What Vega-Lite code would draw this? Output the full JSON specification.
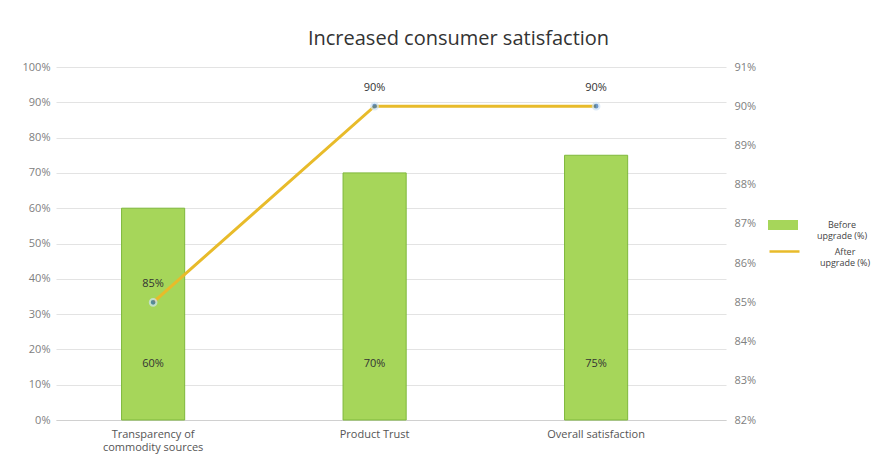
{
  "$schema": "https://vega.github.io/schema/vega-lite/v6.json",
  "width": 885,
  "height": 456,
  "autosize": {"type": "fit", "contains": "padding"},
  "padding": {"left": 22, "top": 29, "right": 14, "bottom": 4},
  "background": "white",
  "title": {
    "text": "Increased consumer satisfaction",
    "fontSize": 20,
    "font": "Open Sans",
    "fontWeight": "normal",
    "color": "#333333",
    "anchor": "middle",
    "frame": "bounds",
    "dx": 12,
    "offset": 12
  },
  "config": {
    "view": {"stroke": null},
    "font": "Open Sans",
    "axis": {"labelFont": "Open Sans", "labelColor": "#808080", "labelFontSize": 11, "ticks": false, "title": null},
    "legend": {"layout": {"right": {"anchor": "middle", "direction": "vertical", "margin": 4}}}
  },
  "data": {
    "values": [
      {"category": "Transparency of commodity sources", "before": 0.60, "after": 0.85},
      {"category": "Product Trust", "before": 0.70, "after": 0.90},
      {"category": "Overall satisfaction", "before": 0.75, "after": 0.90}
    ]
  },
  "encoding": {
    "x": {
      "field": "category",
      "type": "nominal",
      "sort": null,
      "scale": {"paddingInner": 0.715, "paddingOuter": 0.37, "align": 0.4},
      "axis": {
        "labelAngle": 0,
        "labelColor": "#555555",
        "labelFontSize": 11,
        "domainColor": "#d0d0d0",
        "labelPadding": 8,
        "labelExpr": "datum.label == 'Transparency of commodity sources' ? ['Transparency of', 'commodity sources'] : datum.label"
      }
    }
  },
  "layer": [
    {
      "layer": [
        {
          "mark": {"type": "bar", "stroke": "#7fb83c", "strokeWidth": 1},
          "encoding": {
            "y": {
              "field": "before",
              "type": "quantitative",
              "scale": {"domain": [0, 1]},
              "axis": {"format": ".0%", "values": [0,0.1,0.2,0.3,0.4,0.5,0.6,0.7,0.8,0.9,1], "gridColor": "#e3e3e3", "domain": false, "labelPadding": 6, "labelOverlap": false}
            },
            "fill": {
              "datum": "Before upgrade (%)",
              "scale": {"range": ["#a6d65a"]},
              "legend": {
                "title": null,
                "symbolType": "M-3,-1H3V1H-3Z",
                "symbolSize": 100,
                "symbolStrokeWidth": 0,
                "labelExpr": "['Before', 'upgrade (%)']",
                "labelFontSize": 9,
                "labelColor": "#444444",
                "labelAlign": "center",
                "labelOffset": 54,
                "offset": 22,
                "orient": "right"
              }
            }
          }
        },
        {
          "mark": {"type": "text", "fontSize": 11, "color": "#333333"},
          "encoding": {
            "y": {
              "datum": 0.16,
              "type": "quantitative",
              "scale": {"domain": [0, 1]},
              "axis": {"format": ".0%", "values": [0,0.1,0.2,0.3,0.4,0.5,0.6,0.7,0.8,0.9,1], "gridColor": "#e3e3e3", "domain": false, "labelPadding": 6, "labelOverlap": false}
            },
            "text": {"field": "before", "type": "quantitative", "format": ".0%"}
          }
        }
      ]
    },
    {
      "layer": [
        {
          "mark": {"type": "line", "strokeWidth": 3},
          "encoding": {
            "y": {
              "field": "after",
              "type": "quantitative",
              "scale": {"domain": [0.82, 0.91]},
              "axis": {"orient": "right", "format": ".0%", "values": [0.82,0.83,0.84,0.85,0.86,0.87,0.88,0.89,0.9,0.91], "grid": false, "domain": false, "labelPadding": 8, "labelOverlap": false}
            },
            "stroke": {
              "datum": "After upgrade (%)",
              "scale": {"range": ["#e8bb2a"]},
              "legend": {
                "title": null,
                "symbolType": "M-3,0H3",
                "symbolSize": 100,
                "symbolStrokeWidth": 2.5,
                "labelExpr": "['After', 'upgrade (%)']",
                "labelFontSize": 9,
                "labelColor": "#444444",
                "labelAlign": "center",
                "labelOffset": 54,
                "offset": 22,
                "orient": "right"
              }
            }
          }
        },
        {
          "mark": {"type": "point", "filled": true, "size": 45, "color": "#2f6db5", "stroke": "#cfe3f5", "strokeWidth": 2},
          "encoding": {
            "y": {
              "field": "after",
              "type": "quantitative",
              "scale": {"domain": [0.82, 0.91]},
              "axis": {"orient": "right", "format": ".0%", "values": [0.82,0.83,0.84,0.85,0.86,0.87,0.88,0.89,0.9,0.91], "grid": false, "domain": false, "labelPadding": 8, "labelOverlap": false}
            }
          }
        },
        {
          "mark": {"type": "text", "fontSize": 11, "color": "#333333", "dy": -18},
          "encoding": {
            "y": {
              "field": "after",
              "type": "quantitative",
              "scale": {"domain": [0.82, 0.91]},
              "axis": {"orient": "right", "format": ".0%", "values": [0.82,0.83,0.84,0.85,0.86,0.87,0.88,0.89,0.9,0.91], "grid": false, "domain": false, "labelPadding": 8, "labelOverlap": false}
            },
            "text": {"field": "after", "type": "quantitative", "format": ".0%"}
          }
        }
      ]
    }
  ],
  "resolve": {"scale": {"y": "independent"}}
}
